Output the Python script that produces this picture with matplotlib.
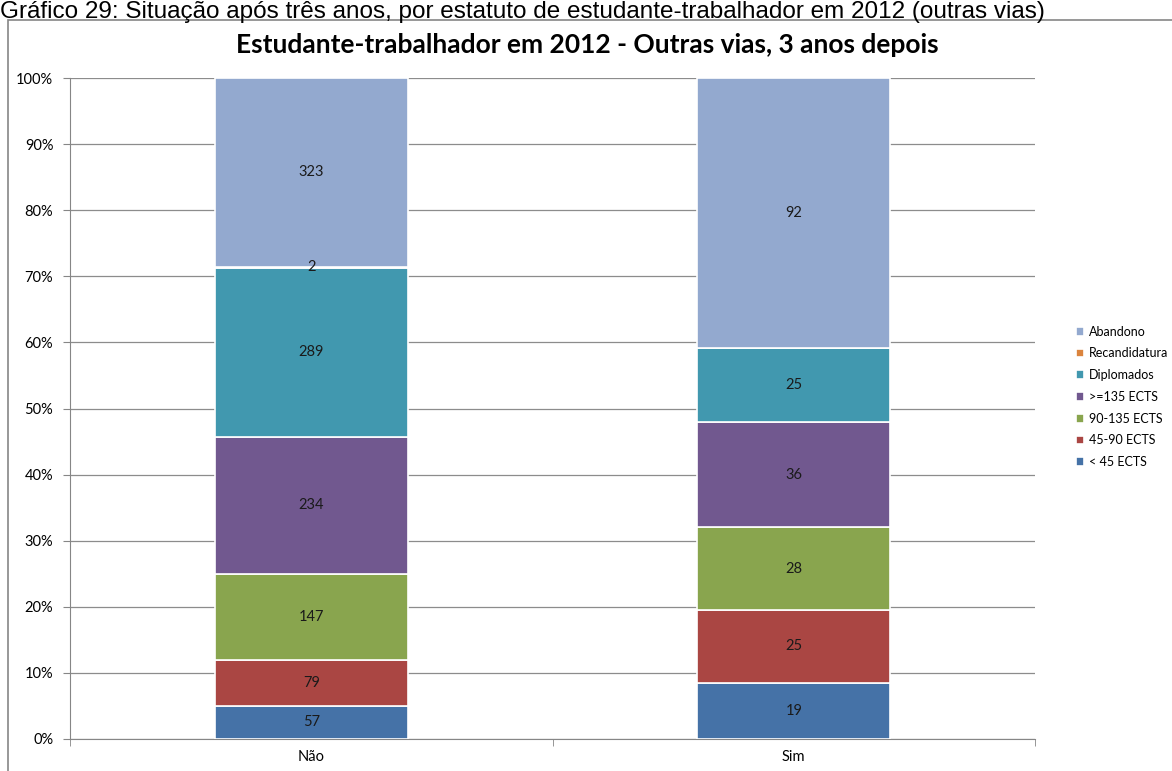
import matplotlib.pyplot as plt
import numpy as np
from matplotlib.patches import Rectangle
from matplotlib.ticker import PercentFormatter

# data
categories = ['Não', 'Sim']
series = ['< 45 ECTS', '45-90 ECTS', '90-135 ECTS', '>=135 ECTS',
          'Diplomados', 'Recandidatura', 'Abandono']
values_nao = [57, 79, 147, 234, 289, 2, 323]
values_sim = [19, 25, 28, 36, 25, 0, 92]
colors = ['#4572A7', '#AA4643', '#89A54E', '#71588F',
          '#4198AF', '#DB843D', '#93A9CF']

counts = np.array([values_nao, values_sim], dtype=float).T   # series x category
shares = counts / counts.sum(axis=0) * 100

fig = plt.figure(figsize=(11.72, 7.71), dpi=100)
W, H = 1172, 771

# caption above the chart frame
fig.text(0.0, 1 - 18 / H, 'Gráfico 29: Situação após três anos, por estatuto de '
         'estudante-trabalhador em 2012 (outras vias)',
         family='Liberation Sans', fontsize=17.5, va='baseline', ha='left')

# chart frame
fig.patches.append(Rectangle((8 / W, -0.01), 1.0, 1 - 20 / H + 0.01,
                             transform=fig.transFigure, fill=False,
                             edgecolor='#868686', linewidth=1.2))

ax = fig.add_axes([70 / W, 1 - 739 / H, (1035 - 70) / W, (739 - 78) / H])
x = np.arange(len(categories))
bottom = np.zeros(len(categories))
handles = []
for i, name in enumerate(series):
    b = ax.bar(x, shares[i], 0.4, bottom=bottom, color=colors[i],
               edgecolor='white', linewidth=1.2, label=name, zorder=3)
    handles.append(b)
    for j in range(len(categories)):
        if counts[i, j] > 0:
            ax.text(x[j], bottom[j] + shares[i, j] / 2, '%d' % counts[i, j],
                    ha='center', va='center', fontsize=10.5, family='Lato',
                    color='#1a1a1a', zorder=4)
    bottom += shares[i]

ax.set_xlim(-0.5, 1.5)
ax.set_ylim(0, 100)
ax.set_yticks(np.arange(0, 101, 10))
ax.yaxis.set_major_formatter(PercentFormatter(decimals=0))
ax.set_xticks(x)
ax.set_xticklabels(categories)
ax.set_xticks([-0.5, 0.5, 1.5], minor=True)
ax.tick_params(axis='x', which='major', length=0, pad=8)
ax.tick_params(axis='x', which='minor', length=5, color='#868686')
ax.tick_params(axis='y', length=5, color='#868686', pad=7)
for lab in ax.get_xticklabels() + ax.get_yticklabels():
    lab.set_family('Lato')
    lab.set_fontsize(10.5)
ax.grid(axis='y', color='#8c8c8c', linewidth=0.9, zorder=0)
for s in ['top', 'right']:
    ax.spines[s].set_visible(False)
for s in ['left', 'bottom']:
    ax.spines[s].set_color('#868686')

fig.text(587 / W, 1 - 45 / H,
         'Estudante-trabalhador em 2012 - Outras vias, 3 anos depois',
         ha='center', va='center', fontsize=19, fontweight='bold',
         family='Lato')

leg = fig.legend(handles[::-1], series[::-1], loc='center left',
                 bbox_to_anchor=(1073 / W, 1 - 397 / H), frameon=False,
                 prop={'family': 'Lato', 'size': 9}, handlelength=0.7,
                 handleheight=0.7, handletextpad=0.4, labelspacing=0.78,
                 borderaxespad=0, borderpad=0.2)

plt.savefig('out.png', dpi=100)
